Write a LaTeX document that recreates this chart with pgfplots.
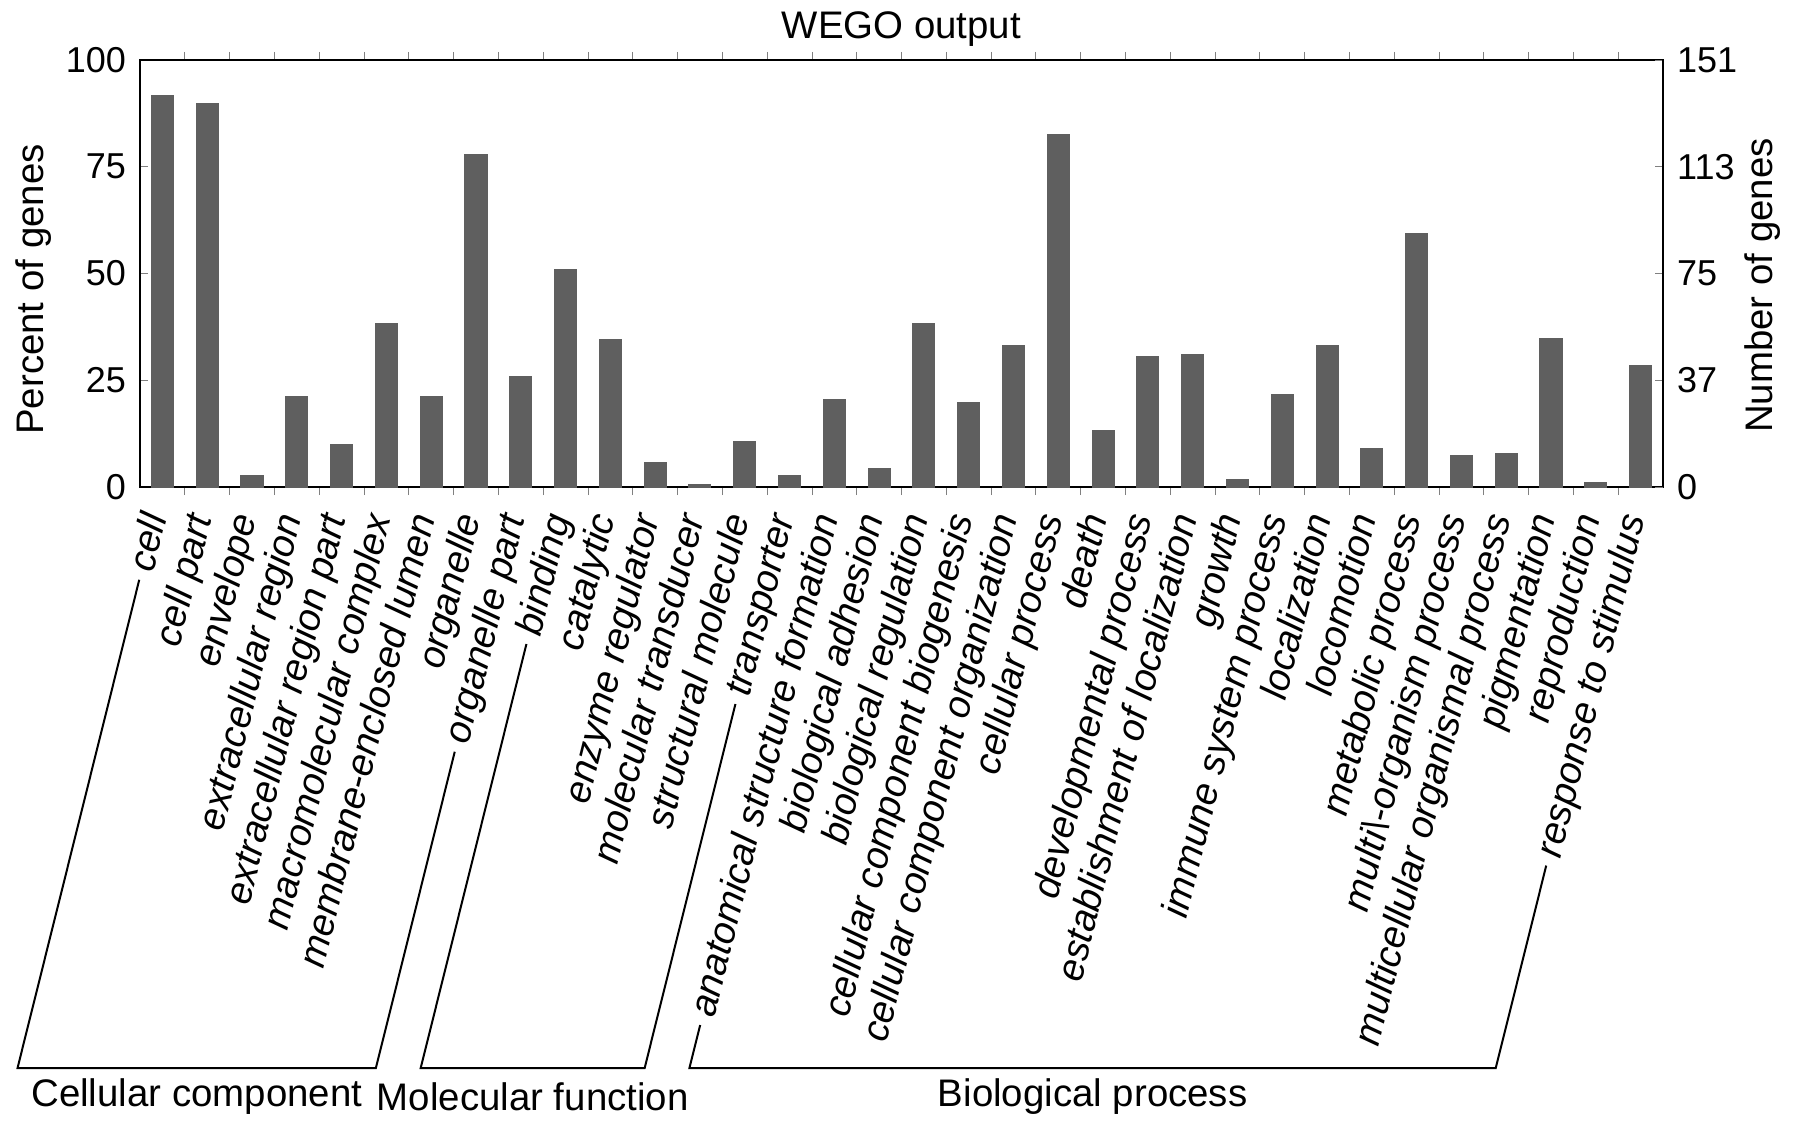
\documentclass[border=0pt]{standalone}
\usepackage{fontspec}
\setmainfont{Liberation Sans}
\usepackage{pgfplots}
\pgfplotsset{compat=1.18}

\definecolor{barcol}{RGB}{95,95,95}
\newcommand\lbl{\fontsize{9.6}{11.5}\selectfont\itshape}
\newcommand\txt{\fontsize{9.6}{11.5}\selectfont}
\newlength\lw
% distance along the label direction from the tick to the start of a bracket line
\newcommand\setgap[2]{\settowidth\lw{\lbl #2}\addtolength\lw{9.5pt}\xdef#1{\the\lw}}
\def\dx{11.1985}   % width of one category, pt
\def\ang{256}
\def\full{149.7pt}

\newcommand\bracket[5]{%
  \pgfmathsetmacro\xa{(#1+0.5)*\dx}%
  \pgfmathsetmacro\xb{(#3+0.5)*\dx}%
  \draw[line width=0.5pt]
    ([shift={(\ang:#2)}]\xa pt,0) -- ([shift={(\ang:\full)}]\xa pt,0)
    -- ([shift={(\ang:\full)}]\xb pt,0) -- ([shift={(\ang:#4)}]\xb pt,0);
  \pgfmathsetmacro\xm{0.5*(\xa+\xb)-36.2}%
  \node[font=\txt, anchor=center] at (\xm pt,-152.5pt) {#5};
}

\begin{document}
\setgap\sA{cell}%
\setgap\sB{organelle part}%
\setgap\sC{binding}%
\setgap\sD{transporter}%
\setgap\sE{anatomical structure formation}%
\setgap\sF{response to stimulus}%
\begin{tikzpicture}
\begin{axis}[
  at={(0,0)}, anchor=south west,
  scale only axis, width=380.75pt, height=106.75pt,
  xmin=-0.5, xmax=33.5, ymin=0, ymax=100,
  enlargelimits=false,
  axis line style={line width=0.6pt},
  tick align=inside,
  ytick={0,25,50,75,100},
  ytick pos=left,
  major tick length=2pt,
  minor tick length=2pt,
  xtick={0,...,33},
  major x tick style={draw=none},
  minor xtick={0.5,1.5,...,32.5},
  xticklabels={cell, cell part, envelope, extracellular region,
    extracellular region part, macromolecular complex,
    membrane-enclosed lumen, organelle, organelle part,
    binding, catalytic, enzyme regulator, molecular transducer,
    structural molecule, transporter,
    anatomical structure formation, biological adhesion,
    biological regulation, cellular component biogenesis,
    cellular component organization, cellular process, death,
    developmental process, establishment of localization, growth,
    immune system process, localization, locomotion,
    metabolic process, multi\textbackslash-organism process,
    multicellular organismal process, pigmentation, reproduction,
    response to stimulus},
  xticklabel style={rotate=76, anchor=east, font=\lbl,
    inner xsep=5pt, inner ysep=0pt, text height=5pt, text depth=0pt},
  yticklabel style={font=\fontsize{9}{11}\selectfont},
  /pgf/number format/assume math mode=true,
  title={WEGO output},
  every axis title shift=0pt,
  title style={font=\txt, at={(axis description cs:0.5,1)},
    anchor=center, yshift=7.75pt},
  ylabel={Percent of genes},
  every axis y label/.style={at={(axis description cs:0,0.5)},
    xshift=-26.5pt, yshift=-4pt, rotate=90, anchor=center, font=\txt},
  ybar, bar width=0.48,
]
\addplot[fill=barcol, draw=barcol] coordinates {
  (0,91.6) (1,89.8) (2,2.7) (3,21.1) (4,9.8) (5,38.2) (6,21.1) (7,77.9)
  (8,25.7) (9,50.8) (10,34.4) (11,5.7) (12,0.6) (13,10.5) (14,2.6)
  (15,20.5) (16,4.3) (17,38.2) (18,19.8) (19,33.0) (20,82.5) (21,13.2)
  (22,30.4) (23,30.9) (24,1.8) (25,21.5) (26,33.0) (27,9.0) (28,59.4)
  (29,7.2) (30,7.7) (31,34.7) (32,0.9) (33,28.3)
};
\end{axis}
\begin{axis}[
  at={(0,0)}, anchor=south west,
  scale only axis, width=380.75pt, height=106.75pt,
  xmin=-0.5, xmax=33.5, ymin=0, ymax=151,
  enlargelimits=false,
  axis x line=none, axis y line*=right,
  axis line style={line width=0.6pt, -},
  tick align=inside, major tick length=2pt,
  ytick={0,37.75,75.5,113.25,151},
  yticklabels={0,37,75,113,151},
  yticklabel style={font=\fontsize{9}{11}\selectfont},
  ylabel={Number of genes},
  every axis y label/.style={at={(axis description cs:1,0.5)},
    xshift=25pt, yshift=-3pt, rotate=90, anchor=center, font=\txt},
]
\addplot[draw=none] coordinates {(0,0)};
\end{axis}

\bracket{0}{\sA}{8}{\sB}{Cellular component}
\bracket{9}{\sC}{14}{\sD}{Molecular function}
\bracket{15}{\sE}{33}{\sF}{Biological process}

\pgfresetboundingbox
\path[use as bounding box] (-35pt,-161.5pt) rectangle (413.75pt,121.75pt);
\end{tikzpicture}
\end{document}
